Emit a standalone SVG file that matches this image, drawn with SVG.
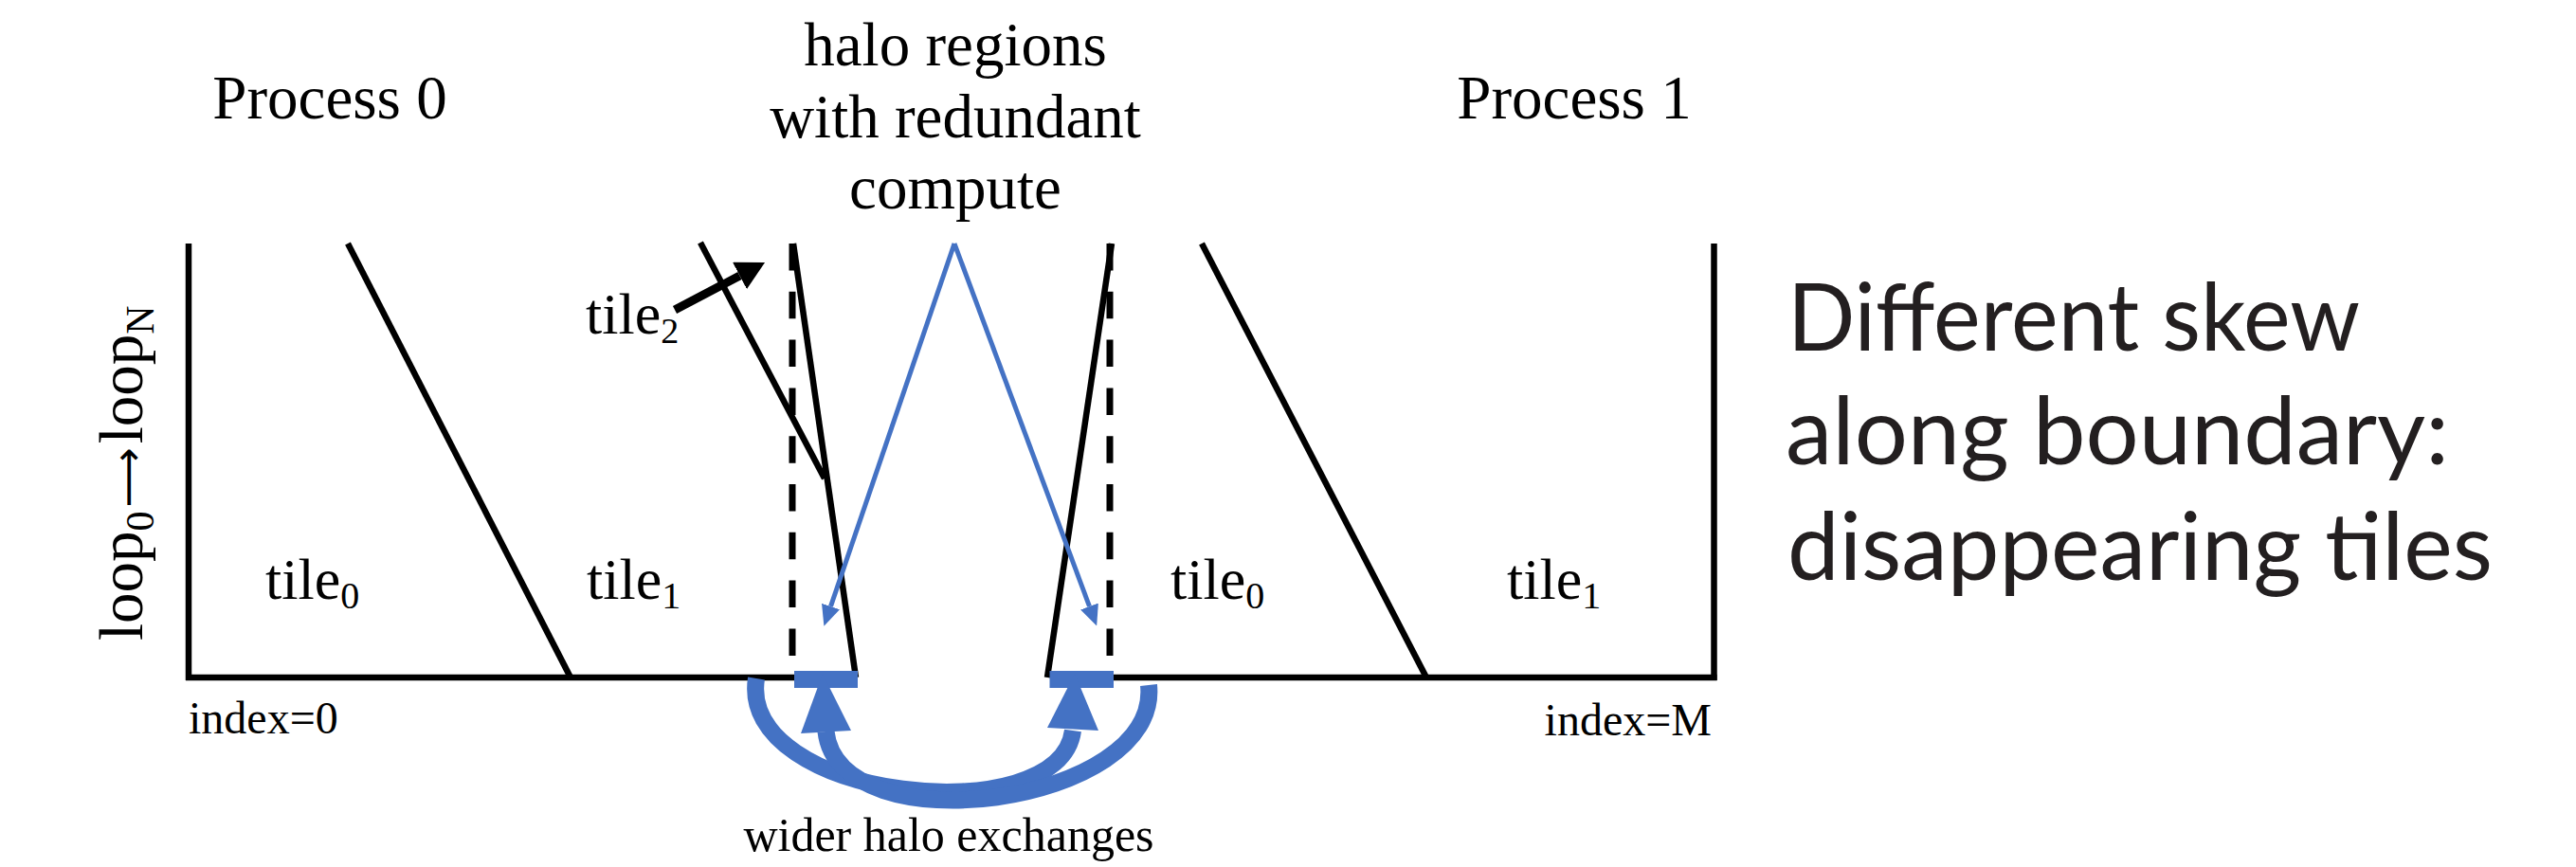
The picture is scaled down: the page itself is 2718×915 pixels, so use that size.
<svg xmlns="http://www.w3.org/2000/svg" width="2718" height="915" viewBox="0 0 2718 915">
  <style>
    .serif { font-family: "Liberation Serif", "Times New Roman", serif; fill: #000; }
    .big { font-size: 65px; }
    .tile { font-size: 62px; }
    .sub { font-size: 40px; }
    .idx { font-size: 48px; }
    .side { font-family: Lato, "Open Sans", "Liberation Sans", sans-serif; font-size: 98px; fill: #231F20; }
    .solid { stroke: #000; stroke-width: 6.5; fill: none; stroke-linecap: butt; }
    .dashed { stroke: #000; stroke-width: 7; fill: none; stroke-dasharray: 28.5 22.3; }
    .blue-thin { stroke: #4472C4; stroke-width: 5; fill: none; }
    .blue-thick { stroke: #4472C4; stroke-width: 18; fill: none; stroke-linecap: butt; }
    .blue-fill { fill: #4472C4; }
  </style>
  <defs>
    <marker id="blueHead" viewBox="0 0 22 20" refX="0" refY="10" markerWidth="22" markerHeight="20" markerUnits="userSpaceOnUse" orient="auto">
      <path d="M0,0 L22,10 L0,20 z" fill="#4472C4"/>
    </marker>
    <marker id="blackHead" viewBox="0 0 30 32" refX="0" refY="16" markerWidth="30" markerHeight="32" markerUnits="userSpaceOnUse" orient="auto">
      <path d="M0,0 L30,16 L0,32 z" fill="#000"/>
    </marker>
  </defs>
  <rect width="2718" height="915" fill="#fff"/>

  <g id="domain-frame">
    <line class="solid" x1="199" y1="257" x2="199" y2="718"/>
    <line class="solid" x1="1808.5" y1="257" x2="1808.5" y2="718"/>
    <line class="solid" x1="196" y1="715" x2="838" y2="715"/>
    <line class="solid" x1="1174" y1="715" x2="1811.5" y2="715"/>
  </g>

  <g id="process0-tiles">
    <line class="solid" x1="367" y1="257" x2="602" y2="715"/>
    <line class="solid" x1="739" y1="256" x2="870" y2="505"/>
    <line class="solid" x1="837" y1="257" x2="903" y2="715"/>
    <line class="dashed" x1="836" y1="257" x2="836" y2="694"/>
  </g>

  <g id="process1-tiles">
    <line class="solid" x1="1173" y1="257" x2="1105" y2="715"/>
    <line class="dashed" x1="1171" y1="257" x2="1171" y2="694"/>
    <line class="solid" x1="1268" y1="257" x2="1505" y2="715"/>
  </g>

  <g id="halo-left">
    <rect class="blue-fill" x="838" y="708" width="67" height="18"/>
  </g>
  <g id="halo-right">
    <rect class="blue-fill" x="1107.5" y="708" width="67.5" height="18"/>
  </g>

  <g id="labels">
    <text class="serif big" x="348" y="125" text-anchor="middle">Process 0</text>
    <text class="serif big" x="1661" y="125" text-anchor="middle">Process 1</text>
    <text class="serif big" text-anchor="middle"><tspan x="1008" y="69">halo regions</tspan><tspan x="1008" y="145">with redundant</tspan><tspan x="1008" y="220">compute</tspan></text>
    <text class="serif big" transform="translate(150,676) rotate(-90)">loop<tspan font-size="42" dy="12">0</tspan><tspan font-family="DejaVu Sans" font-size="44" dx="4" dy="-12">⟶</tspan><tspan dx="4">loop</tspan><tspan font-size="42" dy="12">N</tspan></text>
    <text class="serif tile" x="280" y="632">tile<tspan class="sub" dy="10">0</tspan></text>
    <text class="serif tile" x="619" y="632">tile<tspan class="sub" dy="10">1</tspan></text>
    <text class="serif tile" x="618" y="352" font-size="58">tile<tspan font-size="38" dy="10">2</tspan></text>
    <text class="serif tile" x="1235" y="632">tile<tspan class="sub" dy="10">0</tspan></text>
    <text class="serif tile" x="1590" y="632">tile<tspan class="sub" dy="10">1</tspan></text>
    <text class="serif idx" x="199" y="774">index=0</text>
    <text class="serif idx" x="1806" y="776" text-anchor="end">index=M</text>
    <text class="serif" x="1001" y="898" font-size="50" text-anchor="middle">wider halo exchanges</text>
  </g>

  <g id="side-note">
    <text class="side" x="1886" y="370" textLength="604" lengthAdjust="spacingAndGlyphs">Different skew</text>
    <text class="side" x="1884" y="490" textLength="700" lengthAdjust="spacingAndGlyphs">along boundary:</text>
    <text class="side" x="1886" y="612" textLength="744" lengthAdjust="spacingAndGlyphs">disappearing tiles</text>
  </g>

  <g id="connectors">
    <path class="blue-thin" d="M1007,257 L876.5,640" marker-end="url(#blueHead)"/>
    <path class="blue-thin" d="M1007,257 L1149.5,640" marker-end="url(#blueHead)"/>
    <path stroke="#000" stroke-width="9" fill="none" d="M712,327 L780.5,291" marker-end="url(#blackHead)"/>
    <path class="blue-thick" d="M798,716 C778,845 1118,880 1132,771"/>
    <polygon class="blue-fill" points="1134,711 1105,768 1159,771"/>
    <path class="blue-thick" d="M1212,723 C1225,850 885,895 871.5,772"/>
    <polygon class="blue-fill" points="868,711 845,774 898,771"/>
  </g>
</svg>
